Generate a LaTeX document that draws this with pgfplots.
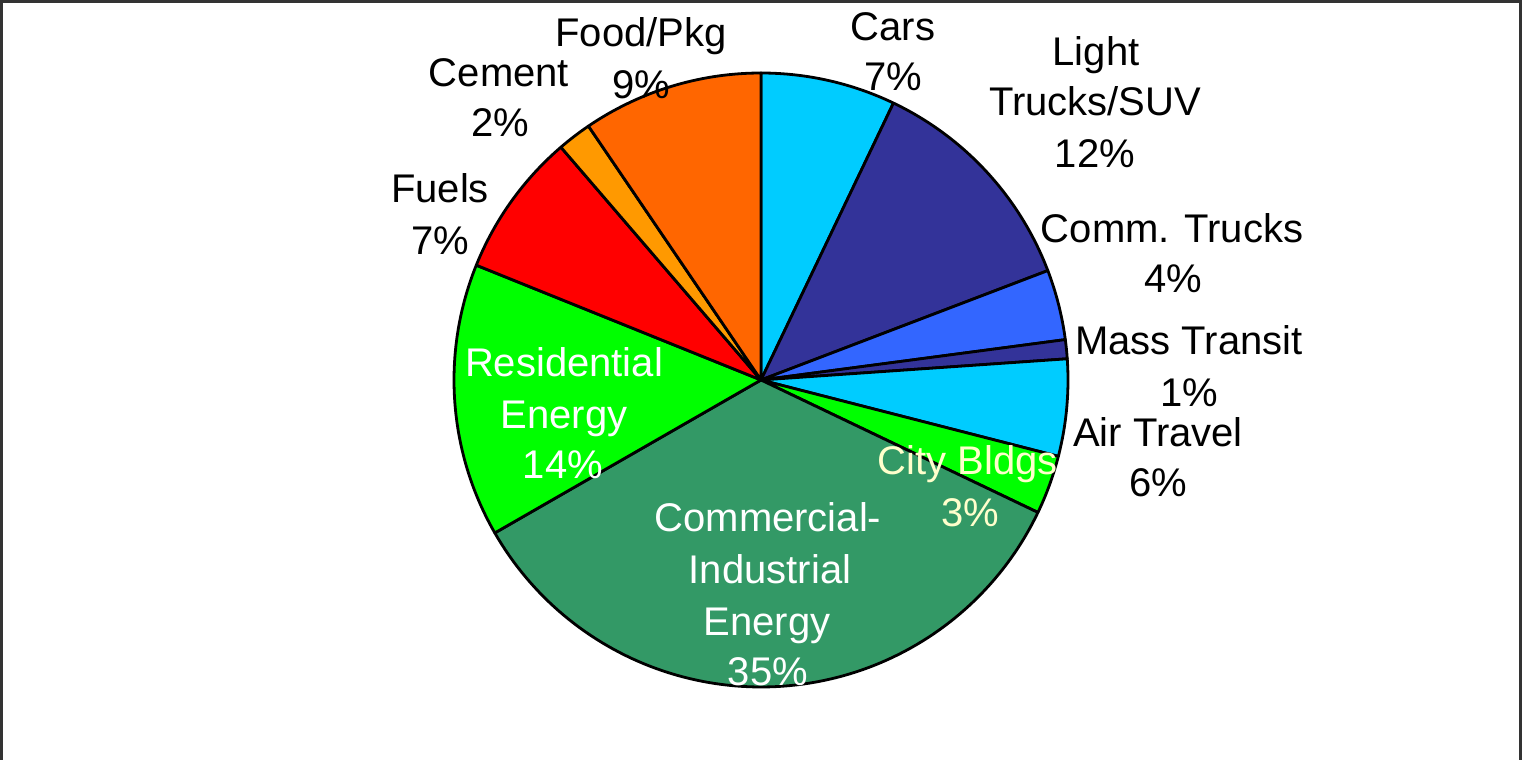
\documentclass[border=0pt]{standalone}
\usepackage{pgfplots}
\pgfplotsset{compat=1.18}
\usepackage{fontspec}
\setmainfont{Liberation Sans}
\definecolor{cCyan}{HTML}{00CCFF}
\definecolor{cNavy}{HTML}{333399}
\definecolor{cBlue}{HTML}{3366FF}
\definecolor{cGreen}{HTML}{00FF00}
\definecolor{cSea}{HTML}{339966}
\definecolor{cRed}{HTML}{FF0000}
\definecolor{cAmber}{HTML}{FF9900}
\definecolor{cOrange}{HTML}{FF6600}
\definecolor{cPale}{HTML}{FFFFCC}
% slice: cumulative percent start, end, colour
\newcommand{\slice}[3]{%
  \addplot[fill=#3, draw=black, line width=1.4pt, line join=round,
    domain=#1:#2, samples=100, variable=x]
    ({761+307*cos(90-3.6*x)},{380+307*sin(90-3.6*x)})
    -- (axis cs:761,380) -- cycle;}
\newcommand{\lab}[4][black]{\node[anchor=base, text=#1, inner sep=0pt,
  font=\fontsize{20}{24}\selectfont] at (axis cs:#2,{760-#3}) {#4};}
\begin{document}
\begin{tikzpicture}
\begin{axis}[x=0.5pt, y=0.5pt, xmin=0, xmax=1522, ymin=0, ymax=760,
  hide axis, clip=false]
% values (percent of total): Cars 7.1, Light Trucks/SUV 12.1, Comm. Trucks 3.7,
% Mass Transit 1.0, Air Travel 5.1, City Bldgs 3.1, Commercial-Industrial 34.6,
% Residential 14.4, Fuels 7.6, Cement 1.8, Food/Pkg 9.5
\slice{0}{7.1}{cCyan}
\slice{7.1}{19.2}{cNavy}
\slice{19.2}{22.9}{cBlue}
\slice{22.9}{23.9}{cNavy}
\slice{23.9}{29.0}{cCyan}
\slice{29.0}{32.1}{cGreen}
\slice{32.1}{66.7}{cSea}
\slice{66.7}{81.1}{cGreen}
\slice{81.1}{88.7}{cRed}
\slice{88.7}{90.5}{cAmber}
\slice{90.5}{100}{cOrange}
\draw[line width=1.5pt, black!80] (axis cs:1.5,-10) rectangle (axis cs:1520.5,758.5);
% labels
\lab{641}{47}{Food/Pkg}
\lab{641}{99}{9\%}
\lab{499}{87}{Cement}
\lab{500}{137}{2\%}
\lab{440}{203}{Fuels}
\lab{440}{255}{7\%}
\lab{893}{41}{Cars}
\lab{893}{91}{7\%}
\lab{1096}{66}{Light}
\lab{1095}{116}{Trucks/SUV}
\lab{1095}{168}{12\%}
\lab{1172}{243}{Comm. Trucks}
\lab{1173}{293}{4\%}
\lab{1189}{355}{Mass Transit}
\lab{1189}{407}{1\%}
\lab{1158}{447}{Air Travel}
\lab{1158}{497}{6\%}
\lab[cPale]{968}{475}{City Bldgs}
\lab[cPale]{970}{527}{3\%}
\lab[white]{564}{377}{Residential}
\lab[white]{564}{429}{Energy}
\lab[white]{563}{479}{14\%}
\lab[white]{768}{532}{Commercial-}
\lab[white]{770}{584}{Industrial}
\lab[white]{767}{636}{Energy}
\lab[white]{768}{686}{35\%}
\end{axis}
\pgfresetboundingbox
\path[use as bounding box] (current axis.south west) rectangle (current axis.north east);
\end{tikzpicture}
\end{document}
